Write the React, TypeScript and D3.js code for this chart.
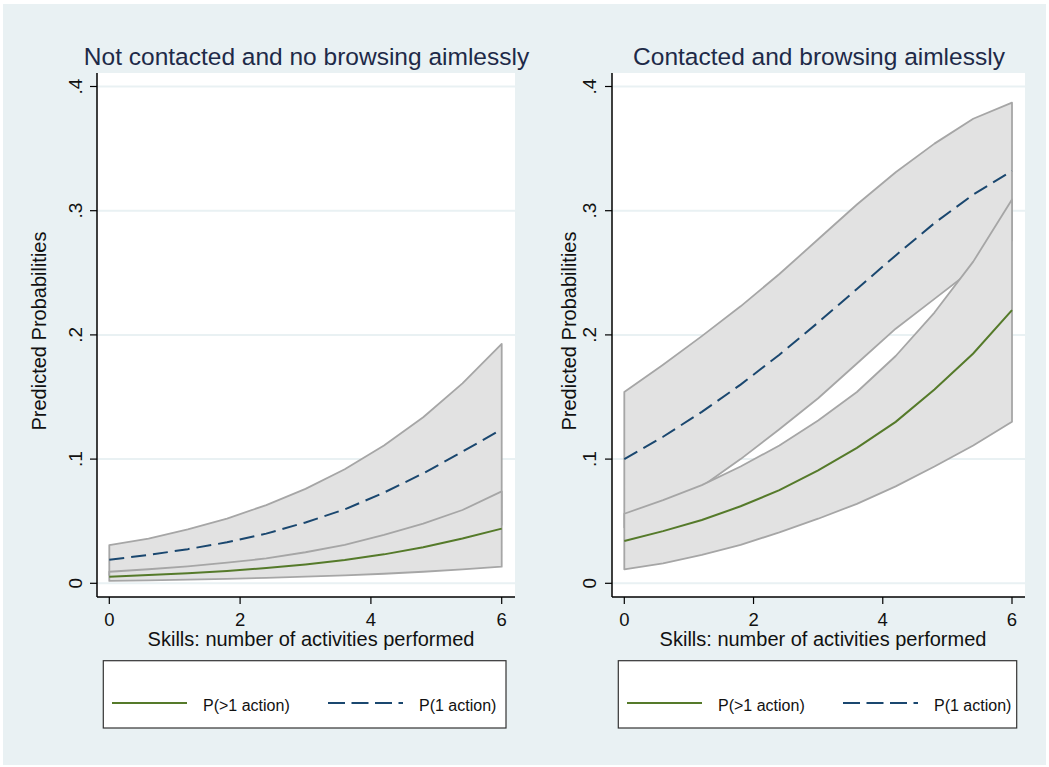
import React, { useEffect, useRef } from 'react';
import * as d3 from 'd3';

// skills grid used by margins (0 to 6, step .6)
const skills = [0, 0.6, 1.2, 1.8, 2.4, 3.0, 3.6, 4.2, 4.8, 5.4, 6];

// left panel: not contacted, no browsing aimlessly
const leftOne = [0.019, 0.0228, 0.0275, 0.033, 0.040, 0.049, 0.0595, 0.073, 0.0885, 0.106, 0.124];
const leftOneLo = [0.0068, 0.0083, 0.0100, 0.0121, 0.0146, 0.0178, 0.0216, 0.0262, 0.032, 0.039, 0.047];
const leftOneHi = [0.0308, 0.036, 0.0435, 0.052, 0.063, 0.076, 0.0918, 0.111, 0.1337, 0.161, 0.1927];
const leftMore = [0.0053, 0.0066, 0.0081, 0.0100, 0.0123, 0.0152, 0.0188, 0.0233, 0.029, 0.036, 0.044];
const leftMoreLo = [0.0019, 0.0024, 0.0029, 0.0036, 0.0044, 0.0053, 0.0064, 0.0077, 0.0093, 0.0112, 0.0134];
const leftMoreHi = [0.0093, 0.0113, 0.0137, 0.0166, 0.020, 0.025, 0.031, 0.039, 0.048, 0.059, 0.074];

// right panel: contacted and browsing aimlessly
const rightOne = [0.100, 0.118, 0.138, 0.160, 0.184, 0.210, 0.237, 0.264, 0.290, 0.313, 0.332];
const rightOneLo = [0.045, 0.060, 0.078, 0.100, 0.124, 0.149, 0.177, 0.205, 0.229, 0.253, 0.276];
const rightOneHi = [0.154, 0.176, 0.199, 0.223, 0.249, 0.277, 0.305, 0.331, 0.354, 0.374, 0.387];
const rightMore = [0.034, 0.042, 0.051, 0.062, 0.075, 0.091, 0.109, 0.130, 0.156, 0.185, 0.220];
const rightMoreLo = [0.0113, 0.016, 0.0228, 0.031, 0.041, 0.052, 0.064, 0.078, 0.094, 0.111, 0.130];
const rightMoreHi = [0.056, 0.067, 0.079, 0.094, 0.111, 0.131, 0.154, 0.183, 0.218, 0.259, 0.309];

const xTicks = [0, 2, 4, 6];
const yTicks = [0, 0.1, 0.2, 0.3, 0.4];
const yTickLabels = ['0', '.1', '.2', '.3', '.4'];
const legendLabels = ['P(>1 action)', 'P(1 action)'];

const FONT = '"Liberation Sans", Arial, Helvetica, sans-serif';
const BG = '#e9f1f3';
const BAND = '#e2e2e2';
const BAND_LINE = '#a6a6a6';
const GREEN = '#557a2a';
const NAVY = '#1a476f';

const panels = [
    {
        title: 'Not contacted and no browsing aimlessly', titleX: 306.5,
        left: 97, right: 515, x0: 109.3, x1: 501.7, yTitleX: 46, tickLabelX: 82, xTitleX: 311,
        legend: { x: 103.3, w: 402.7 },
        one: leftOne, oneLo: leftOneLo, oneHi: leftOneHi,
        more: leftMore, moreLo: leftMoreLo, moreHi: leftMoreHi
    },
    {
        title: 'Contacted and browsing aimlessly', titleX: 819,
        left: 612, right: 1025, x0: 624.3, x1: 1012, yTitleX: 576, tickLabelX: 596, xTitleX: 823,
        legend: { x: 618.3, w: 398.4 },
        one: rightOne, oneLo: rightOneLo, oneHi: rightOneHi,
        more: rightMore, moreLo: rightMoreLo, moreHi: rightMoreHi
    }
];

export default function App() {
    const ref = useRef<SVGSVGElement>(null);

    useEffect(() => {
        const svg = d3.select(ref.current);
        svg.selectAll('*').remove();

        svg.append('rect').attr('width', 1049).attr('height', 767).attr('fill', '#fff');
        svg.append('rect').attr('x', 3).attr('y', 4).attr('width', 1043).attr('height', 761).attr('fill', BG);

        var top = 73, bottom = 597;
        var y = d3.scaleLinear().domain([0, 0.4]).range([583.3, 86.5]);

        panels.forEach(p => {
            var g = svg.append('g').style('font-family', FONT);
            var x = d3.scaleLinear().domain([0, 6]).range([p.x0, p.x1]);

            // plot region
            g.append('rect')
                .attr('x', p.left).attr('y', top)
                .attr('width', p.right - p.left).attr('height', bottom - top)
                .attr('fill', '#fff');

            // gridlines
            g.selectAll('.grid').data(yTicks).enter().append('line')
                .attr('x1', p.left).attr('x2', p.right)
                .attr('y1', d => y(d)).attr('y2', d => y(d))
                .attr('stroke', BG).attr('stroke-width', 2);

            // CI bands, P(1) first then P(>1) on top
            var band = (lo: number[], hi: number[]) => d3.area<number>()
                .x((d, i) => x(skills[i]))
                .y0((d, i) => y(lo[i]))
                .y1((d, i) => y(hi[i]))(skills);

            g.append('path').attr('d', band(p.oneLo, p.oneHi))
                .attr('fill', BAND).attr('stroke', BAND_LINE).attr('stroke-width', 1.8)
                .attr('stroke-linejoin', 'round');
            g.append('path').attr('d', band(p.moreLo, p.moreHi))
                .attr('fill', BAND).attr('stroke', BAND_LINE).attr('stroke-width', 1.8)
                .attr('stroke-linejoin', 'round');

            var line = (vals: number[]) => d3.line<number>()
                .x((d, i) => x(skills[i]))
                .y((d, i) => y(vals[i]))(skills);

            g.append('path').attr('d', line(p.more))
                .attr('fill', 'none').attr('stroke', GREEN).attr('stroke-width', 2);
            g.append('path').attr('d', line(p.one))
                .attr('fill', 'none').attr('stroke', NAVY).attr('stroke-width', 2)
                .attr('stroke-dasharray', '15 7');

            // axes
            g.append('line').attr('x1', p.left).attr('x2', p.left).attr('y1', top).attr('y2', bottom)
                .attr('stroke', '#000').attr('stroke-width', 1.5);
            g.append('line').attr('x1', p.left).attr('x2', p.right).attr('y1', bottom).attr('y2', bottom)
                .attr('stroke', '#000').attr('stroke-width', 1.5);

            g.selectAll('.ytick').data(yTicks).enter().append('line')
                .attr('x1', p.left - 7).attr('x2', p.left)
                .attr('y1', d => y(d)).attr('y2', d => y(d))
                .attr('stroke', '#000').attr('stroke-width', 1.2);
            g.selectAll('.ylab').data(yTicks).enter().append('text')
                .attr('transform', d => 'translate(' + p.tickLabelX + ',' + y(d) + ') rotate(-90)')
                .attr('text-anchor', 'middle')
                .style('font-size', '19px').style('fill', '#111')
                .text((d, i) => yTickLabels[i]);

            g.selectAll('.xtick').data(xTicks).enter().append('line')
                .attr('x1', d => x(d)).attr('x2', d => x(d))
                .attr('y1', bottom).attr('y2', bottom + 7)
                .attr('stroke', '#000').attr('stroke-width', 1.2);
            g.selectAll('.xlab').data(xTicks).enter().append('text')
                .attr('x', d => x(d)).attr('y', 626)
                .attr('text-anchor', 'middle')
                .style('font-size', '18.5px').style('fill', '#111')
                .text(d => String(d));

            // titles
            g.append('text')
                .attr('x', p.titleX).attr('y', 65)
                .attr('text-anchor', 'middle')
                .style('font-size', '24.5px').style('fill', '#1e2a48')
                .text(p.title);
            g.append('text')
                .attr('x', p.xTitleX).attr('y', 646)
                .attr('text-anchor', 'middle')
                .style('font-size', '20px').style('fill', '#111')
                .text('Skills: number of activities performed');
            g.append('text')
                .attr('transform', 'translate(' + p.yTitleX + ',331) rotate(-90)')
                .attr('text-anchor', 'middle')
                .style('font-size', '20px').style('fill', '#111')
                .text('Predicted Probabilities');

            // legend
            var lx = p.legend.x;
            g.append('rect')
                .attr('x', lx).attr('y', 660.7).attr('width', p.legend.w).attr('height', 67.3)
                .attr('fill', '#fff').attr('stroke', '#333').attr('stroke-width', 1.2);
            g.append('line').attr('x1', lx + 8.7).attr('x2', lx + 83.7).attr('y1', 703).attr('y2', 703)
                .attr('stroke', GREEN).attr('stroke-width', 2);
            g.append('text').attr('x', lx + 99.7).attr('y', 710.5)
                .style('font-size', '16px').style('fill', '#111').text(legendLabels[0]);
            g.append('line').attr('x1', lx + 224.7).attr('x2', lx + 299.7).attr('y1', 703).attr('y2', 703)
                .attr('stroke', NAVY).attr('stroke-width', 2).attr('stroke-dasharray', '17 6.5');
            g.append('text').attr('x', lx + 315.7).attr('y', 710.5)
                .style('font-size', '16px').style('fill', '#111').text(legendLabels[1]);
        });
    }, []);

    return (
        <svg ref={ref} width={1049} height={767}
            style={{ position: 'absolute', left: 0, top: 0, display: 'block' }} />
    );
}
